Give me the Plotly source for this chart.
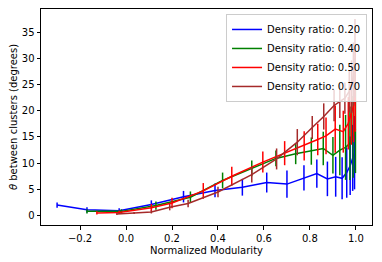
import plotly.graph_objects as go

labels = ["Density ratio: 0.20", "Density ratio: 0.40", "Density ratio: 0.50", "Density ratio: 0.70"]
colors = ["#0000ff", "#008000", "#ff0000", "#a52a2a"]

x_020 = [-0.30, -0.17, -0.03, 0.11, 0.25, 0.387, 0.506, 0.612, 0.70, 0.774, 0.83, 0.876, 0.912, 0.94, 0.96, 0.975, 0.986, 0.994]
y_020 = [2.0, 1.1, 0.9, 2.1, 3.6, 4.8, 5.4, 6.3, 6.0, 7.2, 8.0, 7.0, 7.4, 7.1, 8.2, 9.5, 11.0, 12.0]
e_020 = [0.5, 0.5, 0.5, 0.8, 1.1, 1.3, 1.6, 1.9, 2.6, 2.4, 2.7, 3.3, 3.8, 4.0, 4.8, 5.6, 6.3, 7.0]

x_040 = [-0.17, -0.02, 0.13, 0.28, 0.42, 0.547, 0.652, 0.738, 0.806, 0.858, 0.90, 0.93, 0.955, 0.974, 0.988, 0.998]
y_040 = [0.8, 0.8, 1.9, 3.5, 6.7, 9.0, 10.9, 11.8, 12.3, 12.8, 11.5, 12.5, 13.0, 13.8, 15.0, 16.5]
e_040 = [0.4, 0.4, 0.8, 1.1, 1.5, 1.5, 1.5, 2.0, 2.6, 3.2, 3.5, 4.8, 6.2, 7.0, 7.8, 8.4]

x_050 = [-0.127, -0.03, 0.11, 0.20, 0.336, 0.46, 0.595, 0.69, 0.775, 0.834, 0.87, 0.91, 0.945, 0.967, 0.98, 0.99, 0.997]
y_050 = [0.5, 0.6, 1.5, 2.4, 4.7, 7.5, 10.2, 11.9, 13.3, 14.5, 15.2, 16.5, 16.0, 17.6, 19.5, 21.0, 24.0]
e_050 = [0.3, 0.3, 0.7, 1.0, 1.5, 1.8, 2.0, 2.3, 2.8, 3.0, 3.5, 4.5, 4.0, 5.0, 6.0, 7.0, 8.0]

x_070 = [-0.04, 0.035, 0.11, 0.19, 0.27, 0.40, 0.547, 0.655, 0.745, 0.81, 0.86, 0.905, 0.93, 0.952, 0.971, 0.981, 0.989, 0.996]
y_070 = [0.3, 0.5, 0.7, 1.6, 2.3, 4.5, 7.8, 10.8, 14.0, 16.8, 18.9, 21.0, 21.8, 22.4, 23.7, 24.6, 27.0, 30.0]
e_070 = [0.2, 0.2, 0.3, 0.6, 0.7, 1.0, 1.5, 2.0, 2.5, 2.2, 2.5, 3.0, 3.2, 3.0, 4.0, 5.0, 6.0, 7.5]

series = [(x_020, y_020, e_020), (x_040, y_040, e_040), (x_050, y_050, e_050), (x_070, y_070, e_070)]

fig = go.Figure()
for (xs, ys, es), name, c in zip(series, labels, colors):
    fig.add_trace(go.Scatter(
        x=xs, y=ys, mode="lines", name=name,
        line=dict(color=c, width=1.5),
        error_y=dict(type="data", array=es, visible=True, width=0, thickness=1.5, color=c),
    ))

axis_common = dict(
    showline=True, mirror=True, linecolor="black", linewidth=1,
    ticks="outside", ticklen=3.5, tickwidth=1, tickcolor="black",
    showgrid=False, zeroline=False, automargin=False,
    tickfont=dict(family="DejaVu Sans", size=10, color="black"),
)

# page body has an 8px margin; the figure is sized to fit the 382x262 window
fig.update_layout(
    width=374, height=254,
    margin=dict(l=33, r=10, t=1, b=37),
    paper_bgcolor="white", plot_bgcolor="white",
    font=dict(family="DejaVu Sans", size=10, color="black"),
    xaxis=dict(range=[-0.37, 1.07], tickvals=[-0.2, 0.0, 0.2, 0.4, 0.6, 0.8, 1.0],
               ticktext=["\u22120.2", "0.0", "0.2", "0.4", "0.6", "0.8", "1.0"],
               title=dict(text="Normalized Modularity", font=dict(size=10), standoff=4), **axis_common),
    yaxis=dict(range=[-1.8, 39.4], tickvals=[0, 5, 10, 15, 20, 25, 30, 35],
               title=dict(text="<i>θ</i> between clusters (degrees)", font=dict(size=10), standoff=6), **axis_common),
    legend=dict(x=0.985, y=0.977, xanchor="right", yanchor="top",
                bgcolor="rgba(255,255,255,0.8)", bordercolor="#cccccc", borderwidth=1,
                font=dict(size=10), tracegroupgap=0, itemwidth=30),
    showlegend=True,
)

fig.write_html("out.html")
